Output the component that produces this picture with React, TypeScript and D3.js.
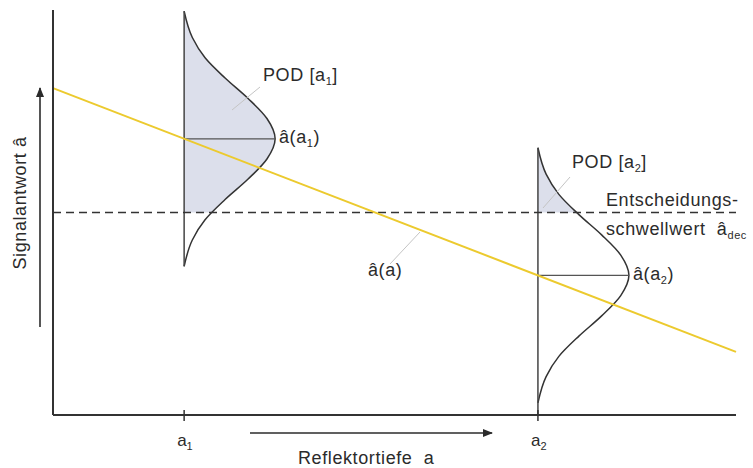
import React, { useEffect, useRef } from 'react'
import * as d3 from 'd3'

// reflector depth positions (a1, a2) and their tick labels
const depthNames = ['1', '2']
const depthValues = [1.92, 7.1]

// fitted line â(a): signal at the two ends of the depth axis
const lineDepth = [0, 10]
const lineSignal = [8.07, 1.56]

// decision threshold â_dec
const threshold = 5.0

// scatter profile around â(a) (signal offset, relative density)
const profileOffset = [-3.15, -2.5, -2, -1.5, -1, -0.5, 0, 0.5, 1, 1.5, 2, 2.5, 3.15]
const profileDensity = [0, 0.09, 0.23, 0.45, 0.7, 0.91, 1, 0.91, 0.7, 0.45, 0.23, 0.09, 0]

// does the stem of each profile run down to the axis
const stemToAxis = [false, true]

const FONT = '"Liberation Sans", Arial, sans-serif'
const TXT = '#2b2b2b'

export default function App() {
  const svgRef = useRef<SVGSVGElement>(null)

  useEffect(() => {
    const width = 753
    const height = 468
    const svg = d3.select(svgRef.current)
    svg.selectAll('*').remove()
    svg.attr('width', width).attr('height', height)

    const x = d3.scaleLinear().domain([0, 10]).range([53, 736])
    const y = d3.scaleLinear().domain([0, 10]).range([415, 10])
    const dens = d3.scaleLinear().domain([0, 1]).range([0, 91])
    const fit = d3.scaleLinear().domain(lineDepth).range(lineSignal)

    const profile = profileOffset.map((o, i) => ({ off: o, d: profileDensity[i] }))

    const defs = svg.append('defs')
    defs.append('clipPath').attr('id', 'above')
      .append('rect').attr('x', 0).attr('y', 0)
      .attr('width', width).attr('height', y(threshold))
    const mk = (id: string) => defs.append('marker').attr('id', id)
      .attr('viewBox', '0 0 10 10').attr('refX', 9).attr('refY', 5)
      .attr('markerWidth', 10).attr('markerHeight', 10)
      .attr('markerUnits', 'userSpaceOnUse').attr('orient', 'auto')
      .append('path').attr('d', 'M0,1 L10,5 L0,9 Z').attr('fill', '#2b2b2b')
    mk('arr')

    const g = svg.append('g')

    // profiles
    depthValues.forEach((a, i) => {
      const m = fit(a)
      const x0 = x(a)
      const area = d3.area<{ off: number; d: number }>()
        .curve(d3.curveMonotoneY)
        .y(p => y(m + p.off)).x0(x0).x1(p => x0 + dens(p.d))
      g.append('path').datum(profile)
        .attr('d', area).attr('fill', '#dcdfeb')
        .attr('clip-path', 'url(#above)')

      const curve = d3.line<{ off: number; d: number }>()
        .curve(d3.curveMonotoneY)
        .x(p => x0 + dens(p.d)).y(p => y(m + p.off))
      g.append('path').datum(profile)
        .attr('d', curve).attr('fill', 'none')
        .attr('stroke', '#333').attr('stroke-width', 1.5)

      const top = y(m + d3.max(profileOffset)!)
      const bottom = stemToAxis[i] ? y(0) : y(m + d3.min(profileOffset)!)
      g.append('line').attr('x1', x0).attr('x2', x0)
        .attr('y1', top).attr('y2', bottom)
        .attr('stroke', '#444').attr('stroke-width', 1.5)

      g.append('line').attr('x1', x0).attr('x2', x0 + dens(1))
        .attr('y1', y(m)).attr('y2', y(m))
        .attr('stroke', '#555').attr('stroke-width', 1.3)
    })

    // threshold
    g.append('line').attr('x1', x(0)).attr('x2', x(10))
      .attr('y1', y(threshold)).attr('y2', y(threshold))
      .attr('stroke', '#333').attr('stroke-width', 1.5)
      .attr('stroke-dasharray', '8,5')

    // fit line
    g.append('line')
      .attr('x1', x(lineDepth[0])).attr('y1', y(lineSignal[0]))
      .attr('x2', x(lineDepth[1])).attr('y2', y(lineSignal[1]))
      .attr('stroke', '#ecca2e').attr('stroke-width', 2)

    // axes
    g.append('line').attr('x1', x(0)).attr('x2', x(0)).attr('y1', y(10)).attr('y2', y(0))
      .attr('stroke', '#333').attr('stroke-width', 2)
    g.append('line').attr('x1', x(0)).attr('x2', x(10)).attr('y1', y(0)).attr('y2', y(0))
      .attr('stroke', '#333').attr('stroke-width', 2)
    depthValues.forEach((a, i) => {
      g.append('line').attr('x1', x(a)).attr('x2', x(a))
        .attr('y1', y(0) - 5).attr('y2', y(0) + 6)
        .attr('stroke', '#333').attr('stroke-width', 1.5)
      const t = g.append('text').attr('x', x(a) - 7).attr('y', 446)
        .attr('font-family', FONT).attr('font-size', 17).attr('fill', TXT)
      t.append('tspan').text('a')
      t.append('tspan').attr('font-size', 11).attr('dy', 4).text(depthNames[i])
    })

    // axis arrows
    g.append('line').attr('x1', 250).attr('x2', 492).attr('y1', 433).attr('y2', 433)
      .attr('stroke', '#2b2b2b').attr('stroke-width', 1.6).attr('marker-end', 'url(#arr)')
    g.append('line').attr('x1', 40).attr('x2', 40).attr('y1', 327).attr('y2', 88)
      .attr('stroke', '#2b2b2b').attr('stroke-width', 1.6).attr('marker-end', 'url(#arr)')

    const text = (tx: number, ty: number) => g.append('text').attr('x', tx).attr('y', ty)
      .attr('font-family', FONT).attr('font-size', 18).attr('fill', TXT)
      .attr('letter-spacing', 0.6).style('white-space', 'pre')

    text(298, 464).text('Reflektortiefe  a')
    g.append('text').attr('transform', 'translate(26,203) rotate(-90)')
      .attr('text-anchor', 'middle')
      .attr('font-family', FONT).attr('font-size', 18).attr('fill', TXT)
      .attr('letter-spacing', 0.6).text('Signalantwort â')

    // leader lines
    const leader = (x1: number, y1: number, x2: number, y2: number) =>
      g.append('line').attr('x1', x1).attr('y1', y1).attr('x2', x2).attr('y2', y2)
        .attr('stroke', '#c4c4c4').attr('stroke-width', 1)
    leader(232, 110, 260, 87)
    leader(543, 208, 570, 177)
    leader(390, 264, 420, 232)

    const sub = (t: d3.Selection<SVGTextElement, unknown, null, undefined>, a: string, s: string, b: string) => {
      t.append('tspan').text(a)
      t.append('tspan').attr('font-size', 11).attr('dy', 4).text(s)
      t.append('tspan').attr('dy', -4).text(b)
    }
    sub(text(263, 81), 'POD [a', '1', ']')
    sub(text(572, 168), 'POD [a', '2', ']')
    sub(text(279, 143), 'â(a', '1', ')')
    sub(text(633, 280), 'â(a', '2', ')')
    text(368, 276).text('â(a)')
    text(606, 206).text('Entscheidungs-')
    const sw = text(606, 235)
    sw.append('tspan').text('schwellwert  â')
    sw.append('tspan').attr('font-size', 11).attr('dy', 4).text('dec')
  }, [])

  return (
    <svg ref={svgRef} style={{ position: 'absolute', left: 0, top: 0, background: '#fff' }}></svg>
  )
}
